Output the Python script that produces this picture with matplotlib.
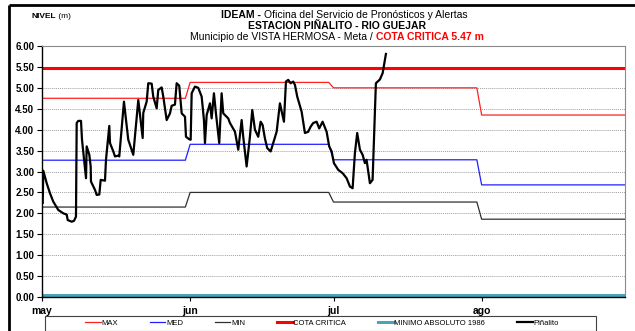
import numpy as np
import matplotlib
matplotlib.use("Agg")
import matplotlib.pyplot as plt
from matplotlib.lines import Line2D
from matplotlib.patches import Rectangle

plt.rcParams['font.family'] = ['Liberation Sans', 'DejaVu Sans']

# ---- datos ----
meses = ["may", "jun", "jul", "ago"]
dias_mes = [31, 30, 31, 31]

nivel_max = [4.75, 5.13, 5.00, 4.35]
nivel_med = [3.27, 3.65, 3.28, 2.68]
nivel_min = [2.15, 2.50, 2.27, 1.86]
cota_critica = 5.47
minimo_absoluto_1986 = 0.04

# Lecturas de la estación Piñalito (días desde el 1 de mayo, nivel en m)
dia_lectura = [0.15, 0.27, 0.98, 1.67, 2.36, 3.41, 4.46, 5.17, 5.38, 6.21,
               6.69, 7.11, 7.26, 7.59, 8.16, 8.37, 9.21, 9.35, 9.90, 10.19,
               10.25, 11.09, 11.44, 11.99, 12.28, 13.18, 13.39, 14.08, 14.23, 14.92,
               15.27, 15.96, 16.17, 17.15, 18.05, 19.10, 20.15, 21.07, 21.19, 21.90,
               22.24, 22.95, 23.28, 24.00, 24.33, 25.04, 25.38, 26.09, 26.78, 27.13,
               27.82, 28.18, 28.72, 29.23, 29.92, 30.13, 30.82, 31.11, 31.32, 32.01,
               32.70, 33.41, 33.89, 34.10, 34.46, 35.15, 35.50, 35.98, 36.40, 37.09,
               37.59, 37.93, 38.97, 39.33, 40.38, 41.07, 41.78, 42.11, 42.82, 43.51,
               44.00, 44.56, 45.25, 45.75, 46.17, 46.65, 47.13, 47.85, 48.39, 49.10,
               49.79, 50.63, 51.05, 51.53, 52.03, 52.57, 52.93, 53.41, 54.33, 55.02,
               55.71, 56.21, 56.76, 57.47, 58.01, 58.72, 59.56, 60.10, 60.61, 61.09,
               61.99, 62.91, 63.74, 64.44, 65.00, 65.48, 65.96, 66.53, 67.09, 67.57,
               67.92, 68.62, 69.18, 69.46, 69.87, 70.71, 71.28, 71.97]
nivel_pinalito = [2.25, 3.02, 2.72, 2.48, 2.28, 2.08, 2.00, 1.97, 1.84, 1.80,
                  1.82, 1.92, 4.16, 4.21, 4.21, 3.76, 2.84, 3.60, 3.40, 3.12,
                  2.76, 2.56, 2.44, 2.45, 2.80, 2.78, 3.28, 4.09, 3.68, 3.48,
                  3.36, 3.38, 3.36, 4.67, 3.76, 3.40, 4.71, 3.80, 4.40, 4.67,
                  5.11, 5.10, 4.79, 4.51, 4.95, 5.01, 4.79, 4.23, 4.39, 4.57,
                  4.60, 5.11, 5.05, 4.39, 4.31, 3.83, 3.77, 3.76, 4.87, 5.03,
                  5.00, 4.79, 4.23, 3.68, 4.35, 4.63, 4.27, 4.87, 4.39, 3.68,
                  4.87, 4.39, 4.27, 4.16, 3.95, 3.52, 4.23, 3.83, 3.12, 3.83,
                  4.47, 4.00, 3.83, 4.19, 4.11, 3.79, 3.56, 3.48, 3.68, 3.95,
                  4.63, 4.19, 5.15, 5.19, 5.11, 5.15, 5.07, 4.79, 4.43, 3.92,
                  3.95, 4.07, 4.16, 4.19, 4.03, 4.19, 3.95, 3.60, 3.48, 3.20,
                  3.04, 2.96, 2.84, 2.64, 2.60, 3.44, 3.92, 3.52, 3.40, 3.20,
                  3.28, 2.72, 2.80, 3.76, 5.11, 5.20, 5.35, 5.81]

# ---- figura ----
W, H = 635, 331
fig = plt.figure(figsize=(W / 100, H / 100), dpi=100)
ax = fig.add_axes([42 / W, 1 - 297 / H, (625 - 42) / W, (297 - 46) / H])

inicio_mes = np.concatenate([[0], np.cumsum(dias_mes)[:-1]])
total_dias = int(np.sum(dias_mes))
dias = np.arange(total_dias)

serie_max = np.repeat(nivel_max, dias_mes)
serie_med = np.repeat(nivel_med, dias_mes)
serie_min = np.repeat(nivel_min, dias_mes)

ax.plot(dias, serie_max, color="#FF2020", lw=0.9, label="MAX")
ax.plot(dias, serie_med, color="#2020FF", lw=0.9, label="MED")
ax.plot(dias, serie_min, color="#303030", lw=0.9, label="MIN")
ax.axhline(cota_critica, color="#FF0000", lw=2.2, label="COTA CRITICA")
ax.axhline(minimo_absoluto_1986, color="#4BA3B8", lw=2.2, label="MINIMO ABSOLUTO 1986")
ax.plot(dia_lectura, nivel_pinalito, color="black", lw=1.6, label="Piñalito",
        solid_joinstyle="round")

ax.set_xlim(0, total_dias - 1)
ax.set_ylim(0, 6)
ax.set_yticks(np.arange(0, 6.01, 0.5))
ax.set_yticklabels([f"{v:.2f}" for v in np.arange(0, 6.01, 0.5)],
                   fontsize=7, fontweight="bold")
ax.set_xticks(inicio_mes)
ax.set_xticklabels(meses, fontsize=7.5, fontweight="bold")
ax.tick_params(axis="y", length=3.5, width=0.8, pad=2)
ax.tick_params(axis="x", length=3, width=0.8, pad=3.5)

ax.yaxis.grid(True, color="#A0A0A0", lw=0.7, linestyle=(0, (1, 1)))
ax.set_axisbelow(True)
for s in ("left", "bottom"):
    ax.spines[s].set_color("black")
    ax.spines[s].set_linewidth(1.0)
for s in ("top", "right"):
    ax.spines[s].set_color("#8A8A8A")
    ax.spines[s].set_linewidth(0.8)

# ---- marco exterior ----
fig.add_artist(Line2D([9 / W, 1], [1 - 5 / H, 1 - 5 / H], transform=fig.transFigure,
                      color="black", lw=2.0, solid_capstyle="butt"))
fig.add_artist(Line2D([9 / W, 9 / W], [0, 1 - 5 / H], transform=fig.transFigure,
                      color="black", lw=2.0, solid_capstyle="butt"))


# ---- títulos ----
def linea_mixta(x_px, y_px, partes, size):
    prev = fig.text(x_px / W, 1 - y_px / H, partes[0][0], fontsize=size,
                    fontweight=partes[0][1], color=partes[0][2],
                    ha="left", va="bottom")
    for texto, peso, color in partes[1:]:
        prev = ax.annotate(texto, xy=(1, 0), xycoords=prev, ha="left", va="bottom",
                           fontsize=size, fontweight=peso, color=color,
                           annotation_clip=False)


linea_mixta(32, 20, [("NIVEL", "bold", "black"), (" (m)", "normal", "black")], 6)
linea_mixta(221, 20, [("IDEAM - ", "bold", "black"),
                      ("Oficina del Servicio de Pronósticos y Alertas", "normal", "black")], 7.5)
fig.text(337 / W, 1 - 31 / H, "ESTACION PIÑALITO - RIO GUEJAR", fontsize=7.5,
         fontweight="bold", ha="center", va="bottom")
linea_mixta(190, 42, [("Municipio de VISTA HERMOSA - Meta / ", "normal", "black"),
                      ("COTA CRITICA 5.47 m", "bold", "#FF0000")], 7.5)

# ---- leyenda ----
fig.add_artist(Rectangle((45 / W, 0), (596 - 45) / W, 1 - 316 / H,
                         transform=fig.transFigure, fill=False,
                         edgecolor="#404040", lw=0.8))
fig.legend(loc="center", bbox_to_anchor=(322 / W, 1 - 323 / H), ncol=6,
           frameon=False, fontsize=5.5, handlelength=2.0, handletextpad=0.1,
           columnspacing=4.2, borderpad=0, borderaxespad=0)

fig.savefig("out.png", dpi=100)
